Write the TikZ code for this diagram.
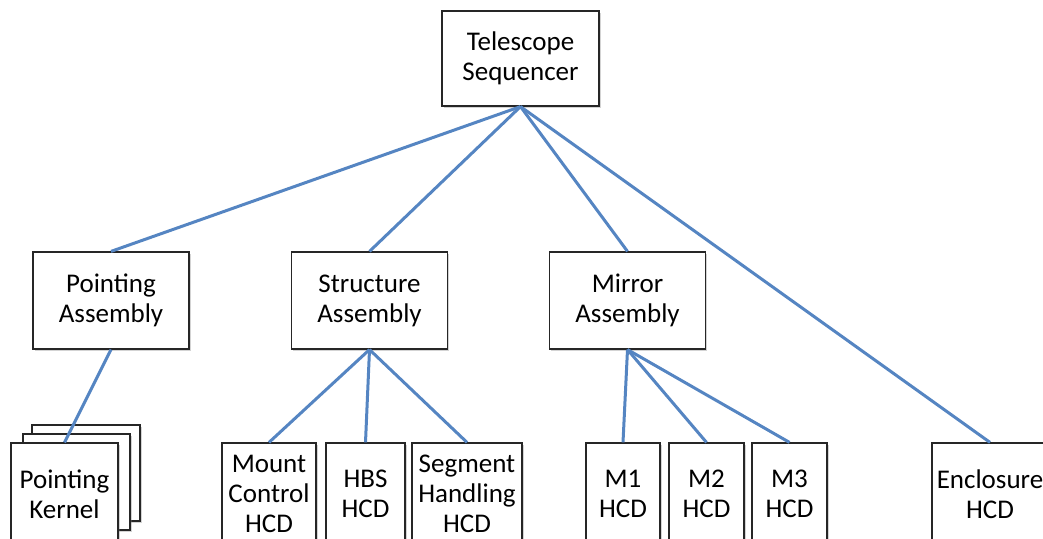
\documentclass[tikz,border=0pt]{standalone}
\usepackage{fontspec}
\setmainfont{Carlito}
\usetikzlibrary{shadows}
\definecolor{linkblue}{HTML}{5585C2}
\definecolor{boxedge}{HTML}{262626}
\tikzset{
  unit/.style    = {draw=boxedge, fill=white, line width=1.2pt, align=center,
                    inner sep=0pt, font=\fontsize{27}{30}\selectfont,
                    drop shadow={shadow xshift=1.5pt, shadow yshift=-1.5pt,
                                 opacity=0.35}},
  topunit/.style = {unit, minimum width=157pt, minimum height=95pt},
  asmunit/.style = {unit, minimum width=156pt, minimum height=97pt},
  hcdunit/.style = {unit, minimum height=102pt},
  link/.style    = {draw=linkblue, line width=3pt},
}

\begin{document}
\begin{tikzpicture}[x=1pt, y=-1pt]
  \useasboundingbox (0,0) rectangle (1043,538);
  \clip (0,0) rectangle (1043,538);
  % top level
  \node[topunit] (seq) at (520.5,58.5) {Telescope\\Sequencer};
  % assemblies
  \node[asmunit] (pa) at (111,300.5) {Pointing\\Assembly};
  \node[asmunit] (sa) at (369.5,300.5) {Structure\\Assembly};
  \node[asmunit] (ma) at (627.5,300.5) {Mirror\\Assembly};
  % stacked kernels
  \node[unit, minimum height=96pt, minimum width=108pt] (pkc) at (86,473) {};
  \node[unit, minimum height=96pt, minimum width=107pt] (pkb) at (76.5,482) {};
  \node[hcdunit, minimum width=107pt] (pk) at (64.5,494) {Pointing\\Kernel};
  % hardware control daemons
  \node[hcdunit, minimum width=94pt]  (mc)  at (269,494) {Mount\\Control\\HCD};
  \node[hcdunit, minimum width=79pt]  (hbs) at (365.5,494) {HBS\\HCD};
  \node[hcdunit, minimum width=110pt] (seg) at (467,494) {Segment\\Handling\\HCD};
  \node[hcdunit, minimum width=74pt]  (m1)  at (623,494) {M1\\HCD};
  \node[hcdunit, minimum width=75pt]  (m2)  at (706.5,494) {M2\\HCD};
  \node[hcdunit, minimum width=75pt]  (m3)  at (789.5,494) {M3\\HCD};
  \node[hcdunit, minimum width=116pt] (enc) at (990,494) {Enclosure\\HCD};
  % links
  \foreach \n in {pa,sa,ma,enc}{\draw[link] (seq.south) -- (\n.north);}
  \draw[link] (pa.south) -- (pk.north);
  \foreach \n in {mc,hbs,seg}{\draw[link] (sa.south) -- (\n.north);}
  \foreach \n in {m1,m2,m3}{\draw[link] (ma.south) -- (\n.north);}
\end{tikzpicture}
\end{document}
